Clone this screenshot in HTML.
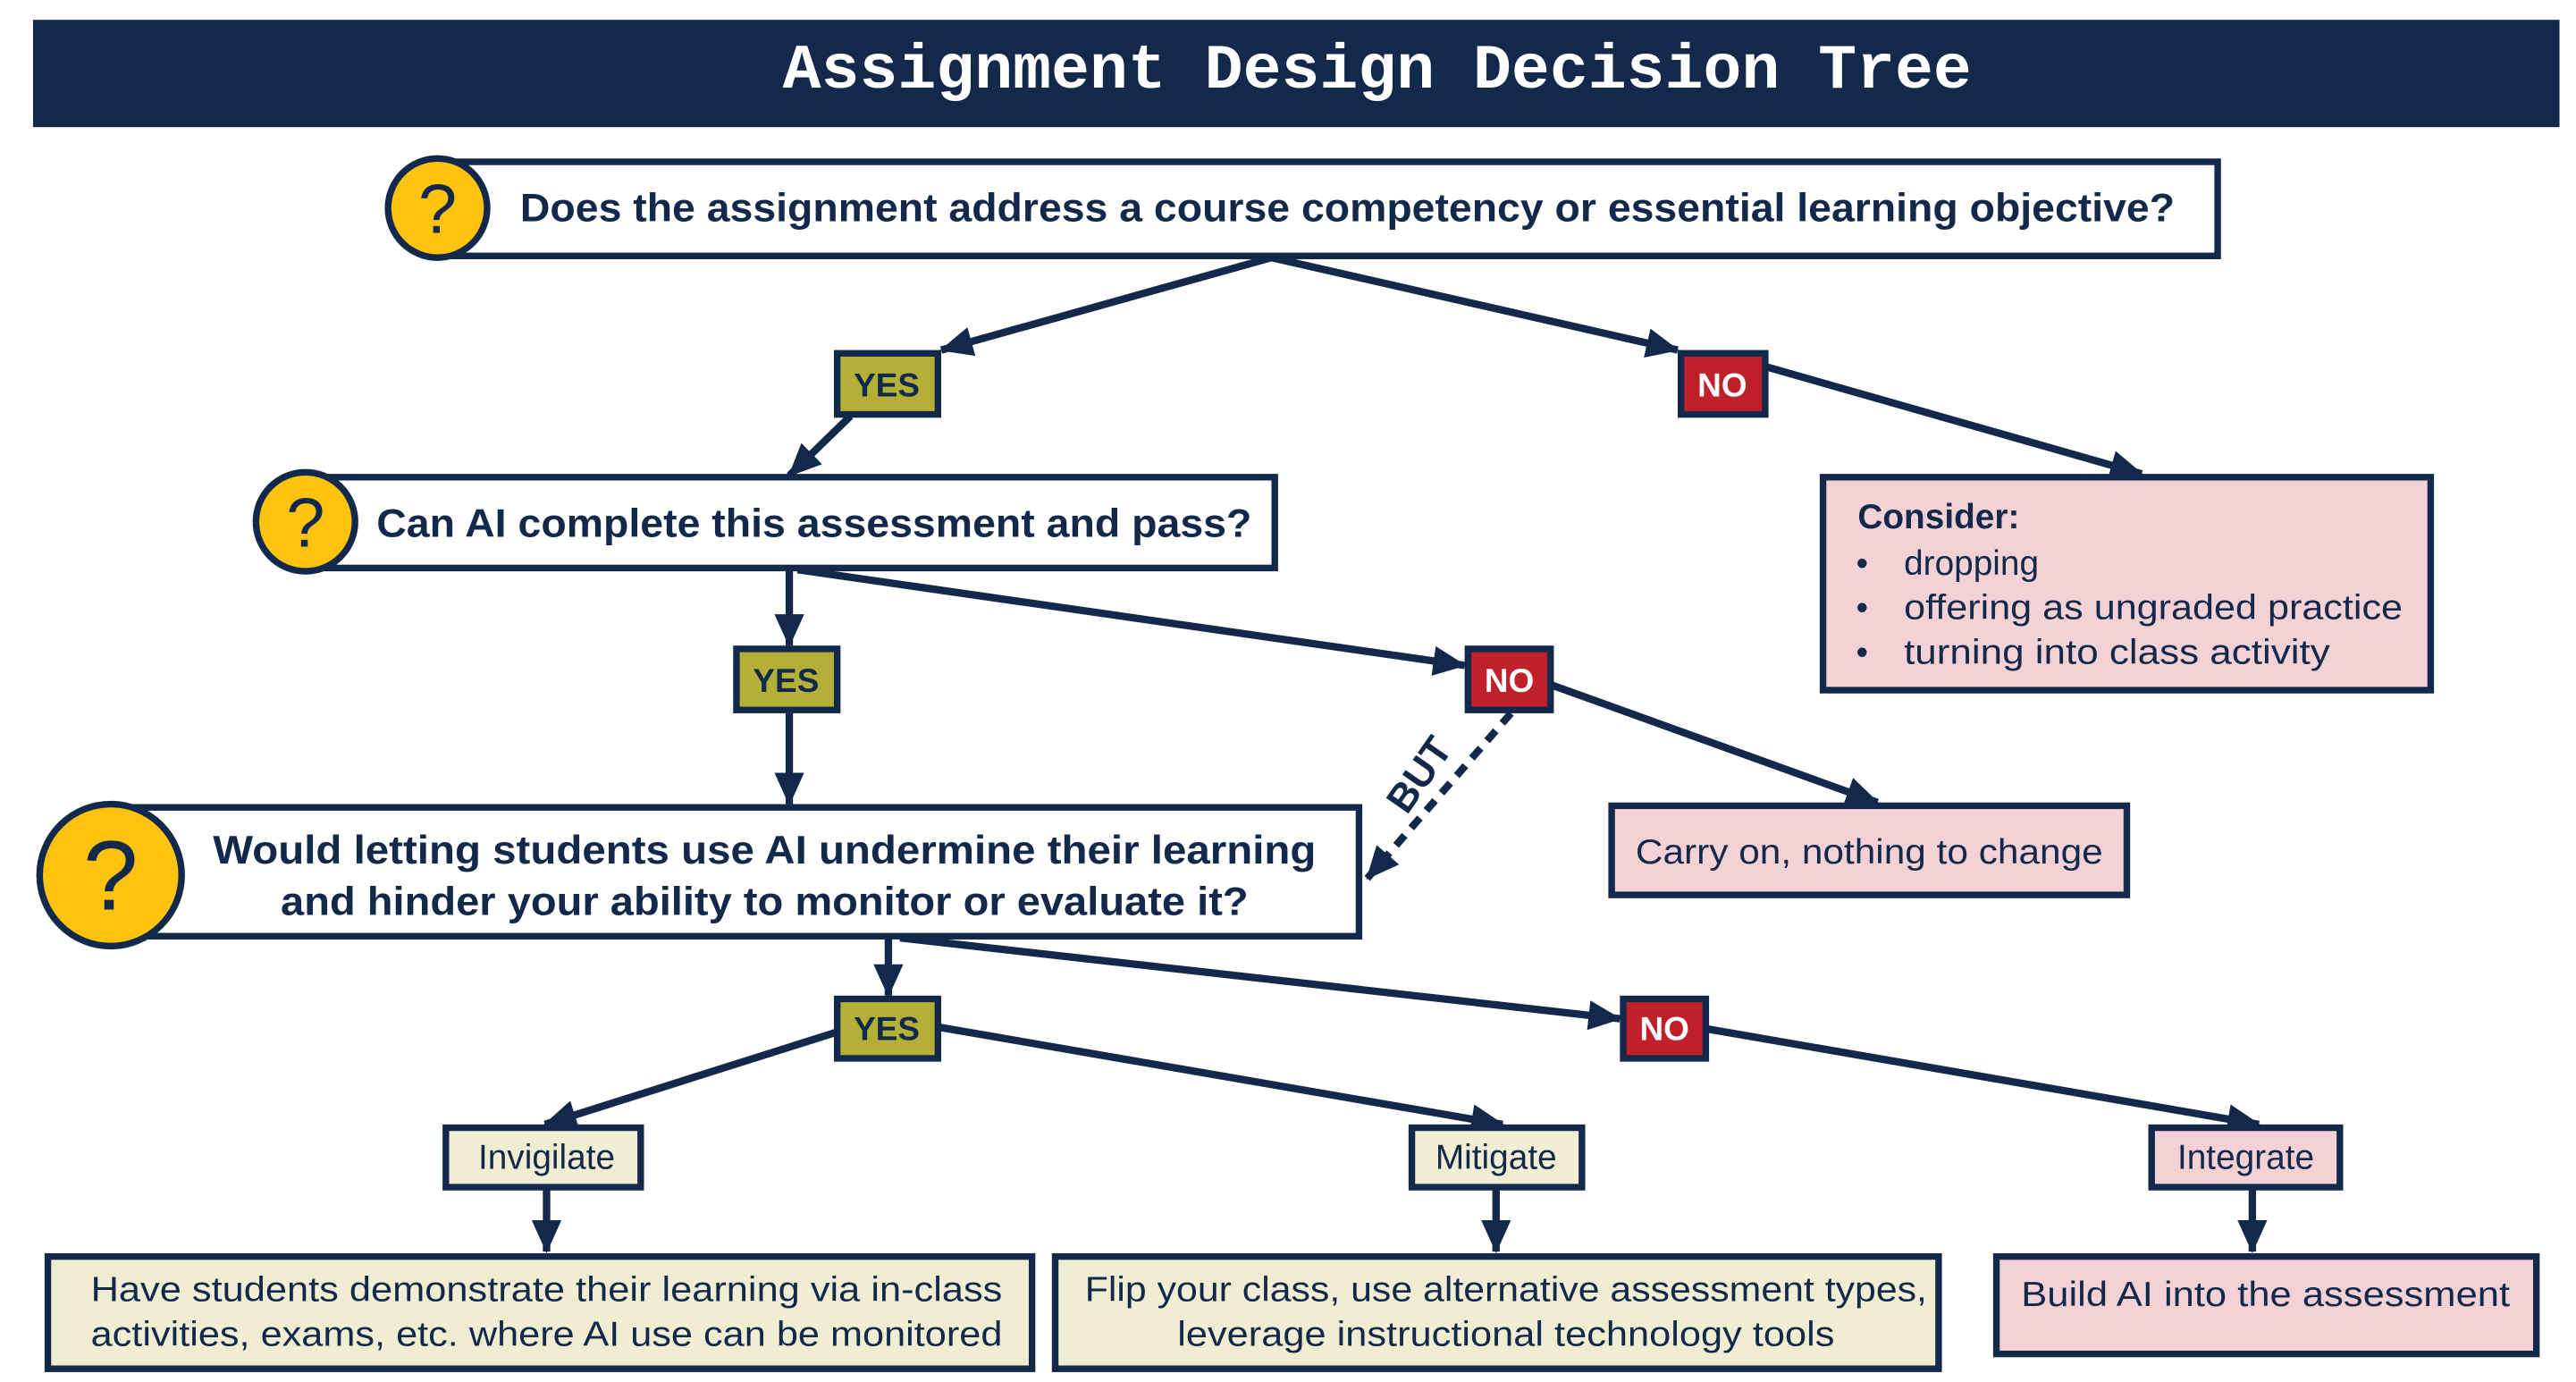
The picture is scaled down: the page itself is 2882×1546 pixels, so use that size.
<!DOCTYPE html>
<html><head><meta charset="utf-8"><style>
html,body{margin:0;padding:0;background:#fff;}
svg{display:block;}
text{font-family:"Liberation Sans",sans-serif;fill:#12294b;}
</style></head><body>
<svg width="2882" height="1546" viewBox="0 0 1560 837" preserveAspectRatio="none" xmlns="http://www.w3.org/2000/svg">
<defs>
<marker id="a" markerUnits="userSpaceOnUse" markerWidth="22" markerHeight="20" refX="19" refY="10" orient="auto">
<path d="M0,1 L20,10 L0,19 Z" fill="#12294b"/></marker>
</defs>
<rect x="20" y="12" width="1530" height="65" fill="#12294b"/>
<text x="834" y="53" text-anchor="middle" style="font-family:'Liberation Mono',monospace;font-weight:bold;font-size:38px;fill:#fff" textLength="720" lengthAdjust="spacingAndGlyphs">Assignment Design Decision Tree</text>

<g stroke="#12294b" stroke-width="4.5" fill="none">
<line x1="770" y1="156" x2="570" y2="212" marker-end="url(#a)"/>
<line x1="770" y1="156" x2="1016" y2="212" marker-end="url(#a)"/>
<line x1="1069" y1="222" x2="1297" y2="287" marker-end="url(#a)"/>
<line x1="515" y1="252" x2="478" y2="288" marker-end="url(#a)"/>
<line x1="478" y1="345" x2="478" y2="391" marker-end="url(#a)"/>
<line x1="483" y1="345" x2="887" y2="403" marker-end="url(#a)"/>
<line x1="940" y1="415" x2="1137" y2="486" marker-end="url(#a)"/>
<line x1="915" y1="432" x2="828" y2="532" stroke-dasharray="8,6" marker-end="url(#a)"/>
<line x1="478" y1="432" x2="478" y2="487" marker-end="url(#a)"/>
<line x1="538" y1="568" x2="538" y2="603" marker-end="url(#a)"/>
<line x1="545" y1="568" x2="981" y2="617" marker-end="url(#a)"/>
<line x1="507" y1="625" x2="330" y2="681" marker-end="url(#a)"/>
<line x1="568" y1="622" x2="910" y2="681" marker-end="url(#a)"/>
<line x1="1033" y1="623" x2="1368" y2="681" marker-end="url(#a)"/>
<line x1="331" y1="720" x2="331" y2="758" marker-end="url(#a)"/>
<line x1="906" y1="720" x2="906" y2="758" marker-end="url(#a)"/>
<line x1="1364" y1="720" x2="1364" y2="758" marker-end="url(#a)"/>
</g>

<g stroke="#12294b" stroke-width="4">
<rect x="265" y="98" width="1078" height="57" fill="#fff"/>
<circle cx="265" cy="126" r="30" fill="#fec30e"/>
<rect x="185" y="289" width="587" height="55" fill="#fff"/>
<circle cx="185" cy="316" r="30" fill="#fec30e"/>
<rect x="65" y="489" width="758" height="78" fill="#fff"/>
<circle cx="67" cy="530" r="43" fill="#fec30e"/>
<rect x="507" y="214" width="61" height="37" fill="#b3af37"/>
<rect x="446" y="393" width="61" height="37" fill="#b3af37"/>
<rect x="507" y="605" width="61" height="36" fill="#b3af37"/>
<rect x="1018" y="214" width="51" height="37" fill="#c0202a"/>
<rect x="889" y="393" width="50" height="37" fill="#c0202a"/>
<rect x="983" y="605" width="50" height="36" fill="#c0202a"/>
<rect x="1104" y="289" width="368" height="129" fill="#f4d1d4"/>
<rect x="976" y="488" width="312" height="54" fill="#f4d1d4"/>
<rect x="270" y="683" width="118" height="36" fill="#f0edd3"/>
<rect x="855" y="683" width="103" height="36" fill="#f0edd3"/>
<rect x="1303" y="683" width="114" height="36" fill="#f4d1d4"/>
<rect x="29" y="761" width="596" height="68" fill="#f0edd3"/>
<rect x="639" y="761" width="535" height="68" fill="#f0edd3"/>
<rect x="1209" y="761" width="327" height="59" fill="#f4d1d4"/>
</g>

<text x="265" y="141" text-anchor="middle" style="font-size:42px">?</text>
<text x="185" y="331" text-anchor="middle" style="font-size:42px">?</text>
<text x="67" y="551" text-anchor="middle" style="font-size:60px">?</text>

<g style="font-weight:bold;font-size:24px">
<text x="315" y="134" textLength="1002" lengthAdjust="spacingAndGlyphs">Does the assignment address a course competency or essential learning objective?</text>
<text x="228" y="325" textLength="530" lengthAdjust="spacingAndGlyphs">Can AI complete this assessment and pass?</text>
<text x="463" y="523" text-anchor="middle" textLength="668" lengthAdjust="spacingAndGlyphs">Would letting students use AI undermine their learning</text>
<text x="463" y="554" text-anchor="middle" textLength="586" lengthAdjust="spacingAndGlyphs">and hinder your ability to monitor or evaluate it?</text>
</g>
<g style="font-weight:bold;font-size:20px">
<text x="537" y="240" text-anchor="middle">YES</text>
<text x="476" y="419" text-anchor="middle">YES</text>
<text x="537" y="630" text-anchor="middle">YES</text>
<text x="1043" y="240" text-anchor="middle" style="fill:#fff">NO</text>
<text x="914" y="419" text-anchor="middle" style="fill:#fff">NO</text>
<text x="1008" y="630" text-anchor="middle" style="fill:#fff">NO</text>
<text x="0" y="0" transform="translate(852,494) rotate(-55)" style="font-size:24px">BUT</text>
</g>
<g style="font-size:21px">
<text x="1125" y="320" style="font-weight:bold">Consider:</text>
<text x="1124" y="348">•</text><text x="1153" y="348">dropping</text>
<text x="1124" y="375">•</text><text x="1153" y="375" textLength="302" lengthAdjust="spacingAndGlyphs">offering as ungraded practice</text>
<text x="1124" y="402">•</text><text x="1153" y="402" textLength="258" lengthAdjust="spacingAndGlyphs">turning into class activity</text>
<text x="1132" y="523" text-anchor="middle" textLength="283" lengthAdjust="spacingAndGlyphs">Carry on, nothing to change</text>
<text x="331" y="708" text-anchor="middle">Invigilate</text>
<text x="906" y="708" text-anchor="middle">Mitigate</text>
<text x="1360" y="708" text-anchor="middle">Integrate</text>
<text x="331" y="788" text-anchor="middle" textLength="552" lengthAdjust="spacingAndGlyphs">Have students demonstrate their learning via in-class</text>
<text x="331" y="815" text-anchor="middle" textLength="552" lengthAdjust="spacingAndGlyphs">activities, exams, etc. where AI use can be monitored</text>
<text x="912" y="788" text-anchor="middle" textLength="510" lengthAdjust="spacingAndGlyphs">Flip your class, use alternative assessment types,</text>
<text x="912" y="815" text-anchor="middle" textLength="398" lengthAdjust="spacingAndGlyphs">leverage instructional technology tools</text>
<text x="1372" y="791" text-anchor="middle" textLength="296" lengthAdjust="spacingAndGlyphs">Build AI into the assessment</text>
</g>
</svg>
</body></html>
